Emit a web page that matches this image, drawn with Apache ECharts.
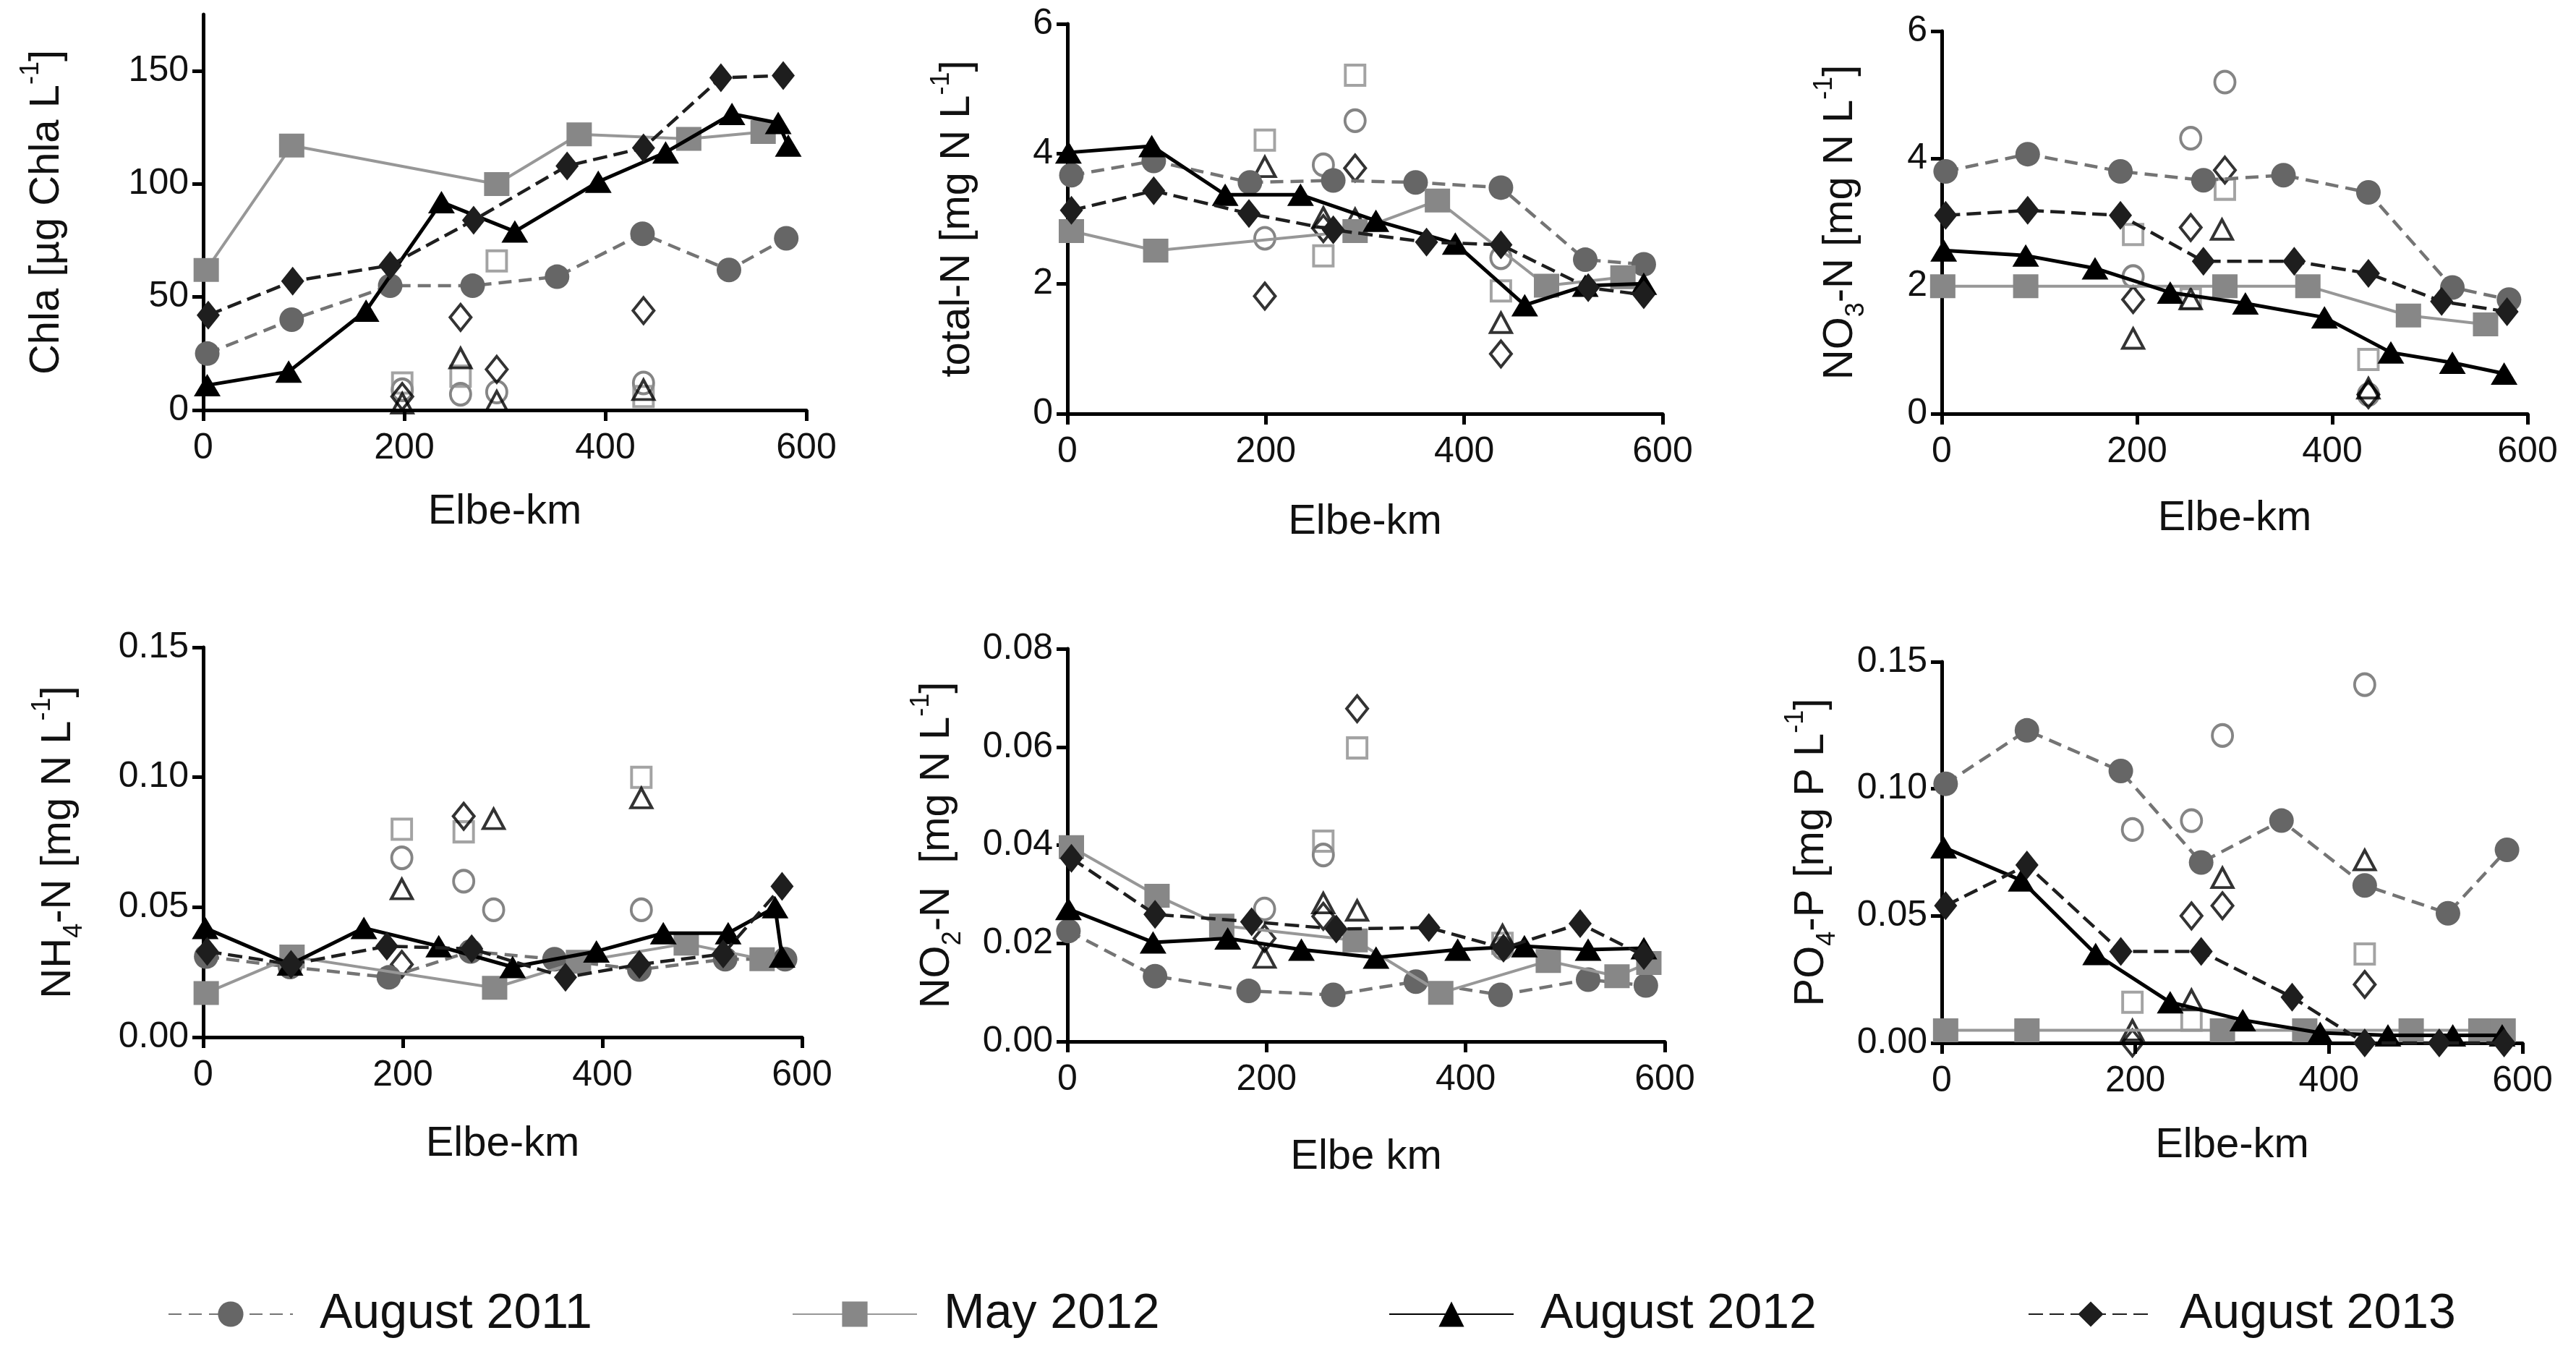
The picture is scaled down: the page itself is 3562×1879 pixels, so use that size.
<!DOCTYPE html>
<html><head><meta charset="utf-8">
<script src="https://cdn.jsdelivr.net/npm/echarts@6/dist/echarts.min.js"></script>
<style>html,body{margin:0;padding:0;background:#fff}#c{width:3562px;height:1879px}</style>
</head><body><div id="c"></div>
<script>
// ---------- DATA ----------
const seriesNames = ['August 2011', 'May 2012', 'August 2012', 'August 2013'];
const kmTicks = [0, 200, 400, 600];

// Chla [µg Chla L-1]
const chlaTicks = [0, 50, 100, 150];
const chla_aug2011 = [[4,25],[88,40],[186,55],[268,55],[352,59],[437,78],[523,62],[580,76]];
const chla_may2012 = [[3,62],[88,117],[292,100],[374,122],[483,120],[557,123]];
const chla_aug2012 = [[4,11],[85,17],[162,44],[237,92],[310,79],[393,101],[460,114],[526,131],[572,127],[582,117]];
const chla_aug2013 = [[5,42],[89,57],[186,64],[269,84],[362,108],[438,116],[515,147],[577,148]];
const chla_open_aug2011 = [[198,9],[256,7],[292,8],[438,12]];
const chla_open_may2012 = [[198,12],[256,15],[292,66],[438,6]];
const chla_open_aug2012 = [[198,3],[256,23],[292,4],[438,9]];
const chla_open_aug2013 = [[198,6],[256,41],[292,18],[438,44]];

// total-N [mg N L-1]
const tnTicks = [0, 2, 4, 6];
const tn_aug2011 = [[4,3.67],[87,3.89],[184,3.56],[268,3.59],[351,3.56],[437,3.48],[522,2.37],[581,2.3]];
const tn_may2012 = [[4,2.81],[89,2.51],[290,2.81],[373,3.28],[483,1.97],[560,2.1]];
const tn_aug2012 = [[1,4.02],[85,4.12],[159,3.37],[235,3.37],[311,2.97],[391,2.62],[461,1.67],[522,1.97],[581,2.0]];
const tn_aug2013 = [[4,3.13],[87,3.43],[183,3.08],[268,2.83],[362,2.64],[437,2.6],[525,1.94],[581,1.83]];
const tn_open_aug2011 = [[199,2.7],[258,3.83],[290,4.51],[437,2.4]];
const tn_open_may2012 = [[199,4.21],[258,2.43],[290,5.21],[437,1.89]];
const tn_open_aug2012 = [[199,3.8],[258,3.02],[290,3.0],[437,1.4]];
const tn_open_aug2013 = [[199,1.81],[258,2.85],[290,3.78],[437,0.92]];

// NO3-N [mg N L-1]
const no3Ticks = [0, 2, 4, 6];
const no3_aug2011 = [[4,3.8],[88,4.07],[183,3.8],[268,3.66],[350,3.74],[437,3.47],[523,1.98],[581,1.79]];
const no3_may2012 = [[1,2.0],[86,2.0],[290,2.0],[375,2.0],[478,1.54],[557,1.4]];
const no3_aug2012 = [[2,2.56],[86,2.48],[157,2.28],[234,1.9],[311,1.73],[392,1.51],[460,0.96],[523,0.8],[576,0.63]];
const no3_aug2013 = [[4,3.11],[88,3.19],[183,3.11],[268,2.39],[361,2.39],[437,2.2],[512,1.76],[579,1.6]];
const no3_open_aug2011 = [[196,2.15],[255,4.32],[290,5.2],[437,0.3]];
const no3_open_may2012 = [[196,2.81],[255,1.8],[290,3.52],[437,0.85]];
const no3_open_aug2012 = [[196,1.18],[255,1.8],[287,2.89],[437,0.4]];
const no3_open_aug2013 = [[196,1.79],[255,2.92],[290,3.82],[437,0.3]];

// NH4-N [mg N L-1]
const nh4Ticks = [0, 0.05, 0.10, 0.15];
const nh4_aug2011 = [[3,0.031],[87,0.027],[186,0.023],[268,0.033],[352,0.030],[437,0.026],[523,0.030],[583,0.030]];
const nh4_may2012 = [[3,0.017],[89,0.031],[292,0.019],[376,0.029],[484,0.036],[560,0.030]];
const nh4_aug2012 = [[2,0.042],[87,0.028],[161,0.042],[236,0.035],[310,0.027],[394,0.033],[461,0.040],[526,0.040],[573,0.050],[580,0.031]];
const nh4_aug2013 = [[4,0.033],[88,0.028],[184,0.035],[269,0.034],[363,0.023],[437,0.028],[521,0.032],[580,0.058]];
const nh4_open_aug2011 = [[199,0.069],[261,0.060],[291,0.049],[439,0.049]];
const nh4_open_may2012 = [[199,0.080],[261,0.079],[439,0.100]];
const nh4_open_aug2012 = [[199,0.057],[291,0.084],[439,0.092]];
const nh4_open_aug2013 = [[199,0.028],[261,0.085]];

// NO2-N [mg N L-1]
const no2Ticks = [0, 0.02, 0.04, 0.06, 0.08];
const no2_aug2011 = [[1,0.0225],[88,0.0133],[182,0.0103],[267,0.0095],[350,0.0122],[435,0.0095],[523,0.0126],[581,0.0114]];
const no2_may2012 = [[4,0.0396],[90,0.0297],[155,0.0236],[289,0.0206],[375,0.0099],[483,0.0164],[552,0.0133],[584,0.016]];
const no2_aug2012 = [[1,0.027],[86,0.0202],[161,0.021],[235,0.0187],[310,0.0171],[392,0.0187],[459,0.0194],[523,0.0187],[579,0.019]];
const no2_aug2013 = [[4,0.0373],[88,0.0259],[185,0.0244],[270,0.0229],[363,0.0232],[438,0.019],[515,0.024],[579,0.0175]];
const no2_open_aug2011 = [[198,0.027],[257,0.038],[437,0.019]];
const no2_open_may2012 = [[257,0.0408],[291,0.0598],[437,0.020]];
const no2_open_aug2012 = [[198,0.0171],[257,0.0282],[291,0.0267],[437,0.0217]];
const no2_open_aug2013 = [[198,0.021],[257,0.0255],[291,0.0678]];

// PO4-P [mg P L-1]
const po4Ticks = [0, 0.05, 0.10, 0.15];
const po4_aug2011 = [[4,0.102],[88,0.123],[185,0.107],[268,0.071],[351,0.0875],[437,0.062],[523,0.051],[584,0.076]];
const po4_may2012 = [[4,0.005],[88,0.005],[290,0.005],[375,0.005],[485,0.005],[557,0.005],[580,0.005]];
const po4_aug2012 = [[2,0.077],[82,0.064],[159,0.035],[236,0.016],[311,0.009],[391,0.004],[461,0.003],[528,0.003],[579,0.003]];
const po4_aug2013 = [[4,0.054],[88,0.070],[185,0.036],[268,0.036],[362,0.018],[437,0],[514,0],[581,0]];
const po4_open_aug2011 = [[197,0.084],[258,0.0875],[290,0.121],[437,0.141]];
const po4_open_may2012 = [[197,0.016],[258,0.009],[437,0.035]];
const po4_open_aug2012 = [[197,0.005],[258,0.017],[290,0.065],[437,0.072]];
const po4_open_aug2013 = [[197,0.0],[258,0.050],[290,0.054],[437,0.023]];

// ---------- LAYOUT / STYLE ----------
const FONT = "'Liberation Sans', Arial, Helvetica, sans-serif";
const panels = [
  {grid:{left:281,top:20,width:834,height:547}, yMax:175, ticks:chlaTicks, dec:0,
   yName:'{t|Chla [µg Chla L}{sup|-1}{t|]}', yGap:176, xName:'Elbe-km', xGap:112,
   lines:[chla_aug2011,chla_may2012,chla_aug2012,chla_aug2013], open:[chla_open_aug2011,chla_open_may2012,chla_open_aug2012,chla_open_aug2013]},
  {grid:{left:1476,top:33,width:823,height:539}, yMax:6, ticks:tnTicks, dec:0,
   yName:'{t|total-N [mg N L}{sup|-1}{t|]}', yGap:112, xName:'Elbe-km', xGap:121,
   lines:[tn_aug2011,tn_may2012,tn_aug2012,tn_aug2013], open:[tn_open_aug2011,tn_open_may2012,tn_open_aug2012,tn_open_aug2013]},
  {grid:{left:2685,top:43,width:810,height:529}, yMax:6, ticks:no3Ticks, dec:0,
   yName:'{t|NO}{sub|3}{t|-N [mg N L}{sup|-1}{t|]}', yGap:100, xName:'Elbe-km', xGap:116,
   lines:[no3_aug2011,no3_may2012,no3_aug2012,no3_aug2013], open:[no3_open_aug2011,no3_open_may2012,no3_open_aug2012,no3_open_aug2013]},
  {grid:{left:281,top:895,width:828,height:539}, yMax:0.15, ticks:nh4Ticks, dec:2,
   yName:'{t|NH}{sub|4}{t|-N [mg N L}{sup|-1}{t|]}', yGap:160, xName:'Elbe-km', xGap:119,
   lines:[nh4_aug2011,nh4_may2012,nh4_aug2012,nh4_aug2013], open:[nh4_open_aug2011,nh4_open_may2012,nh4_open_aug2012,nh4_open_aug2013]},
  {grid:{left:1476,top:897,width:826,height:543}, yMax:0.08, ticks:no2Ticks, dec:2,
   yName:'{t|NO}{sub|2}{t|-N  [mg N L}{sup|-1}{t|]}', yGap:140, xName:'Elbe km', xGap:131,
   lines:[no2_aug2011,no2_may2012,no2_aug2012,no2_aug2013], open:[no2_open_aug2011,no2_open_may2012,no2_open_aug2012,no2_open_aug2013]},
  {grid:{left:2685,top:915,width:803,height:527}, yMax:0.15, ticks:po4Ticks, dec:2,
   yName:'{t|PO}{sub|4}{t|-P [mg P L}{sup|-1}{t|]}', yGap:140, xName:'Elbe-km', xGap:113,
   lines:[po4_aug2011,po4_may2012,po4_aug2012,po4_aug2013], open:[po4_open_aug2011,po4_open_may2012,po4_open_aug2012,po4_open_aug2013]}
];

const lineStyles = [
  {symbol:'circle', size:34, fill:'#666666', line:'#747474', width:4.5, type:[18,10]},
  {symbol:'rect', size:[35,33], fill:'#878787', line:'#979797', width:4, type:'solid'},
  {symbol:'triangle', size:[37,31], fill:'#000000', line:'#000000', width:5, type:'solid'},
  {symbol:'diamond', size:[32,40], fill:'#1e1e1e', line:'#1e1e1e', width:4.5, type:[20,9]}
];
const openStyles = [
  {symbol:'circle', size:[28,30], stroke:'#666666'},
  {symbol:'rect', size:[27,28], stroke:'#8c8c8c'},
  {symbol:'triangle', size:[29,27], stroke:'#000000'},
  {symbol:'diamond', size:[29,36], stroke:'#000000'}
];

const grids = [], xAxes = [], yAxes = [], series = [];
const axisLine = {show:true, onZero:false, lineStyle:{color:'#000', width:5}};
const axisTick = {show:true, inside:false, length:15, lineStyle:{color:'#000', width:5}};
const richName = {
  t:{fontSize:58, fontFamily:FONT, color:'#111', lineHeight:80, verticalAlign:'middle'},
  sup:{fontSize:36, fontFamily:FONT, color:'#111', lineHeight:36, verticalAlign:'top'},
  sub:{fontSize:36, fontFamily:FONT, color:'#111', lineHeight:36, verticalAlign:'bottom'}
};

panels.forEach((p, i) => {
  grids.push(Object.assign({containLabel:false}, p.grid));
  xAxes.push({
    type:'value', gridIndex:i, min:0, max:600, interval:200,
    axisLine, axisTick, splitLine:{show:false},
    axisLabel:{fontSize:50, fontFamily:FONT, color:'#111', margin:28, customValues:kmTicks},
    name:p.xName, nameLocation:'middle', nameGap:p.xGap,
    nameTextStyle:{fontSize:58, fontFamily:FONT, color:'#111'}
  });
  yAxes.push({
    type:'value', gridIndex:i, min:0, max:p.yMax, interval:p.ticks[1]-p.ticks[0],
    axisLine, axisTick:Object.assign({customValues:p.ticks}, axisTick), splitLine:{show:false},
    axisLabel:{fontSize:50, fontFamily:FONT, color:'#111', margin:20, customValues:p.ticks,
               formatter:v => Number(v).toFixed(p.dec)},
    name:p.yName, nameLocation:'middle', nameGap:p.yGap, nameRotate:90,
    nameTextStyle:{rich:richName}
  });
  p.open.forEach((d, j) => {
    const s = openStyles[j];
    series.push({
      type:'scatter', name:seriesNames[j] + ' (open)', xAxisIndex:i, yAxisIndex:i, data:d,
      symbol:s.symbol, symbolSize:s.size, clip:false, z:3,
      itemStyle:{color:'rgba(255,255,255,0)', borderColor:s.stroke, borderWidth:4},
      emphasis:{disabled:true}
    });
  });
  p.lines.forEach((d, j) => {
    const s = lineStyles[j];
    series.push({
      type:'line', name:seriesNames[j], xAxisIndex:i, yAxisIndex:i, data:d,
      symbol:s.symbol, symbolSize:s.size, showAllSymbol:true, clip:false, z:4 + j,
      itemStyle:{color:s.fill, borderWidth:0},
      lineStyle:{color:s.line, width:s.width, type:s.type},
      emphasis:{disabled:true}
    });
  });
});

const legendLeft = [227, 1090, 1915, 2799];
const legends = seriesNames.map((n, j) => ({
  data:[n], left:legendLeft[j], top:1778, orient:'horizontal',
  itemWidth:172, itemHeight:44, selectedMode:false,
  textStyle:{fontSize:68, fontFamily:FONT, color:'#111', padding:[0,0,0,32]}
}));

const chart = echarts.init(document.getElementById('c'), null, {renderer:'canvas'});
chart.setOption({
  backgroundColor:'#ffffff', animation:false,
  grid:grids, xAxis:xAxes, yAxis:yAxes, series, legend:legends
});
</script>
</body></html>
